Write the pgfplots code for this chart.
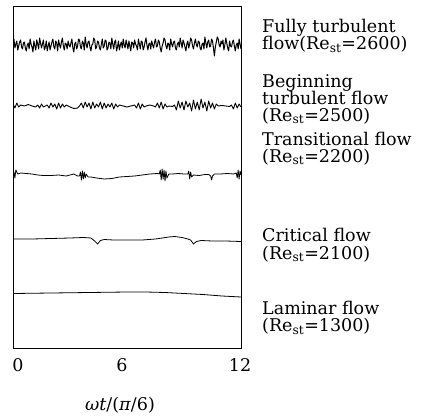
\documentclass[border=0pt]{standalone}
\usepackage{fontspec}
\setmainfont{DejaVu Serif}
\usepackage{pgfplots}
\pgfplotsset{compat=1.18}
\newcommand\lab{\fontsize{17.5}{17}\selectfont}

\begin{document}
\begin{tikzpicture}
\begin{axis}[
  scale only axis, width=228pt, height=342pt,
  xmin=0, xmax=12, ymin=0, ymax=342,
  xtick={0.26,5.74,11.95}, xticklabels={0,6,12},
  ytick=\empty,
  major tick length=0pt,
  xticklabel style={font=\lab, yshift=-7pt},
  /pgf/number format/assume math mode=true,
  axis line style={line width=0.8pt},
  cycle list={{black, no markers}},
  every axis plot/.append style={black, no markers, line width=0.8pt, line join=round},
]
% fully turbulent flow
\addplot[line width=1.0pt] coordinates {
(0.00,305)(0.05,309)(0.10,300)(0.15,304)(0.20,307)(0.25,298)(0.30,302)(0.35,306)(0.40,308)(0.45,301)
(0.50,299)(0.55,305)(0.60,306)(0.65,300)(0.70,297)(0.75,303)(0.80,305)(0.85,299)(0.90,309)(0.95,304)
(1.00,301)(1.05,296)(1.10,307)(1.15,302)(1.20,298)(1.25,308)(1.30,304)(1.35,299)(1.40,310)(1.45,305)
(1.50,300)(1.55,304)(1.60,308)(1.65,298)(1.70,301)(1.75,307)(1.80,297)(1.85,302)(1.90,306)(1.95,298)
(2.00,302)(2.05,306)(2.10,309)(2.15,301)(2.20,299)(2.25,307)(2.30,305)(2.35,297)(2.40,308)(2.45,303)
(2.50,300)(2.55,306)(2.60,310)(2.65,302)(2.70,298)(2.75,305)(2.80,304)(2.85,299)(2.90,307)(2.95,303)
(3.00,301)(3.05,305)(3.10,309)(3.15,300)(3.20,296)(3.25,304)(3.30,306)(3.35,299)(3.40,302)(3.45,309)
(3.50,308)(3.55,301)(3.60,299)(3.65,307)(3.70,305)(3.75,298)(3.80,311)(3.85,304)(3.90,300)(3.95,306)
(4.00,307)(4.05,301)(4.10,297)(4.15,303)(4.20,304)(4.25,310)(4.30,308)(4.35,299)(4.40,301)(4.45,307)
(4.50,306)(4.55,300)(4.60,298)(4.65,304)(4.70,309)(4.75,300)(4.80,302)(4.85,308)(4.90,307)(4.95,298)
(5.00,300)(5.05,306)(5.10,305)(5.15,299)(5.20,310)(5.25,304)(5.30,299)(5.35,306)(5.40,308)(5.45,297)
(5.50,301)(5.55,307)(5.60,298)(5.65,303)(5.70,306)(5.75,300)(5.80,309)(5.85,303)(5.90,300)(5.95,308)
(6.00,304)(6.05,299)(6.10,307)(6.15,302)(6.20,297)(6.25,306)(6.30,305)(6.35,300)(6.40,308)(6.45,304)
(6.50,302)(6.55,298)(6.60,309)(6.65,304)(6.70,299)(6.75,307)(6.80,306)(6.85,298)(6.90,301)(6.95,306)
(7.00,310)(7.05,303)(7.10,298)(7.15,304)(7.20,305)(7.25,299)(7.30,307)(7.35,303)(7.40,300)(7.45,306)
(7.50,309)(7.55,301)(7.60,302)(7.65,308)(7.70,306)(7.75,300)(7.80,296)(7.85,302)(7.90,305)(7.95,310)
(8.00,308)(8.05,302)(8.10,299)(8.15,305)(8.20,304)(8.25,298)(8.30,309)(8.35,304)(8.40,301)(8.45,306)
(8.50,307)(8.55,300)(8.60,298)(8.65,304)(8.70,306)(8.75,301)(8.80,310)(8.85,305)(8.90,300)(8.95,308)
(9.00,305)(9.05,301)(9.10,297)(9.15,304)(9.20,307)(9.25,300)(9.30,304)(9.35,310)(9.40,308)(9.45,302)
(9.50,299)(9.55,305)(9.60,309)(9.65,303)(9.70,301)(9.75,307)(9.80,306)(9.85,300)(9.90,298)(9.95,304)
(10.00,305)(10.05,299)(10.10,311)(10.15,305)(10.20,300)(10.25,306)(10.30,308)(10.35,301)(10.40,302)(10.45,309)
(10.50,307)(10.55,300)(10.60,292)(10.65,301)(10.70,306)(10.75,311)(10.80,309)(10.85,303)(10.90,301)(10.95,307)
(11.00,304)(11.05,308)(11.10,298)(11.15,303)(11.20,310)(11.25,305)(11.30,300)(11.35,297)(11.40,307)(11.45,302)
(11.50,301)(11.55,306)(11.60,308)(11.65,302)(11.70,297)(11.75,303)(11.80,305)(11.85,299)(11.90,309)(11.95,304)
(12.00,299)};
% beginning turbulent flow
\addplot[line width=0.9pt] coordinates {
(0,244)(0.1,240)(0.2,245)(0.3,241)(0.4,243)(0.6,242)(0.8,243.5)(1.0,242)(1.2,241)(1.3,243)
(1.4,240)(1.5,244)(1.6,241)(1.7,242)(1.8,243)(1.9,240)(2.0,245)(2.1,241)(2.2,244)(2.3,239)
(2.4,245)(2.5,240)(2.6,244)(2.7,241)(2.8,243)(3.0,241)(3.2,239.5)(3.4,240)(3.5,242)(3.6,245)
(3.7,240)(3.8,246)(3.9,241)(4.0,245)(4.1,239)(4.2,246)(4.3,240)(4.4,244)(4.5,241)(4.6,246)
(4.7,239)(4.8,245)(4.9,240)(5.0,244)(5.1,241)(5.2,245)(5.3,239)(5.4,244)(5.5,241)(5.6,243)
(5.8,242)(6.0,241)(6.2,242)(6.4,243)(6.5,240)(6.6,245)(6.7,239)(6.8,244)(6.9,241)(7.0,242)
(7.2,243)(7.4,242)(7.5,241)(7.6,245)(7.7,240)(7.8,246)(7.9,239)(8.0,244)(8.1,241)(8.2,242)
(8.4,241.5)(8.5,243)(8.6,238)(8.7,247)(8.8,240)(8.9,246)(9.0,238)(9.1,247)(9.2,241)(9.3,245)
(9.4,237)(9.5,248)(9.6,239)(9.7,246)(9.8,238)(9.9,249)(10.0,240)(10.1,246)(10.2,237)(10.3,247)
(10.4,240)(10.5,245)(10.6,239)(10.7,244)(10.8,242)(11.0,242.5)(11.2,242)(11.4,241.5)(11.5,243)(11.6,239)
(11.7,245)(11.8,240)(11.9,244)(12.0,241)};
% transitional flow
\addplot coordinates {
(0,172)(0.05,176)(0.1,170)(0.15,178)(0.25,174)(0.4,175)(0.7,174.5)(1.0,174)(1.3,173)(1.6,172.5)
(2.0,172.5)(2.4,173)(2.8,172)(3.0,173)(3.2,174)(3.4,172)(3.5,172)(3.55,176)(3.6,168)(3.65,177)
(3.7,169)(3.75,176)(3.8,170)(3.85,174)(3.95,171)(4.1,171)(4.4,170)(4.8,169)(5.2,169.5)(5.6,171)
(6.0,171.5)(6.4,172)(6.8,173)(7.2,174)(7.6,174.5)(7.7,174)(7.75,178)(7.8,168)(7.85,179)(7.9,169)
(7.95,178)(8.0,167)(8.05,177)(8.1,170)(8.2,174)(8.4,174)(8.7,174.5)(9.0,174)(9.2,174)(9.25,177)
(9.3,169)(9.35,176)(9.4,171)(9.5,173)(9.8,172.5)(10.1,173.5)(10.3,173.5)(10.4,172)(10.45,168)(10.5,172)
(10.6,174)(10.9,174)(11.3,174.5)(11.6,174)(11.75,175)(11.8,170)(11.85,178)(11.9,169)(11.95,177)(12,173)};
% critical flow
\addplot coordinates {
(0,109)(1,109)(2,109.5)(3,110)(3.7,110.5)(4.1,110)(4.3,107)(4.45,104)(4.6,107.5)(4.8,108.5)
(5.3,108)(6.0,108)(6.8,108)(7.5,109)(8.2,111)(8.5,111.5)(8.9,110.5)(9.2,109)(9.35,108)(9.5,104)
(9.65,106.5)(9.9,107.5)(10.5,107)(11.2,107)(12,106.5)};
% laminar flow
\addplot coordinates {
(0,54.5)(2,55)(4,55.5)(6,56)(7,56)(8,55.5)(9,54.5)(10,53.5)(11,52)(12,51)};
\end{axis}
\begin{scope}[every node/.style={anchor=base west, inner sep=0pt, font=\lab}]
\node at (249pt,315pt) {Fully turbulent};
\node at (249pt,298pt) {flow(Re\textsubscript{st}=2600)};
\node at (249pt,260pt) {Beginning};
\node at (249pt,243.5pt) {turbulent flow};
\node at (249pt,227pt) {(Re\textsubscript{st}=2500)};
\node at (249pt,202.5pt) {Transitional flow};
\node at (249pt,186pt) {(Re\textsubscript{st}=2200)};
\node at (249pt,107pt) {Critical flow};
\node at (249pt,89pt) {(Re\textsubscript{st}=2100)};
\node at (249pt,33.5pt) {Laminar flow};
\node at (249pt,16.5pt) {(Re\textsubscript{st}=1300)};
\end{scope}
\node[font=\lab, inner sep=0pt] at (107pt,-57pt) {\textit{ωt}/(\textit{π}/6)};
\pgfresetboundingbox
\path (-13pt,-70pt) rectangle (414pt,348pt);
\end{tikzpicture}
\end{document}
